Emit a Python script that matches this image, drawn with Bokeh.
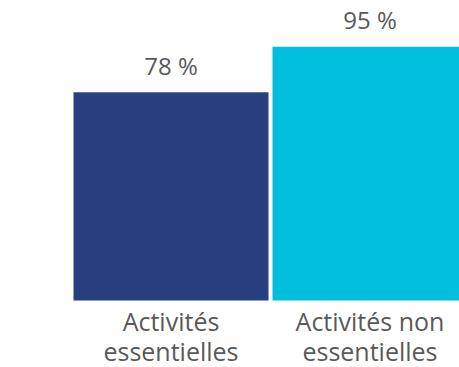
from bokeh.plotting import figure
from bokeh.models import Range1d, ColumnDataSource
from bokeh.core.properties import value
from bokeh.embed import file_html
from bokeh.resources import INLINE

categories = ["Activités\nessentielles", "Activités non\nessentielles"]
values = [78, 95]
value_labels = ["78 %", "95 %"]
colors = ["#283f80", "#00bfde"]

xs = list(range(len(categories)))
src = ColumnDataSource(dict(x=xs, top=values, lab=value_labels,
                            line1=[c.split("\n")[0] for c in categories],
                            line2=[c.split("\n")[1] for c in categories],
                            color=colors, zero=[0] * len(xs)))

p = figure(width=459, height=367, output_backend="svg", toolbar_location=None,
           x_range=Range1d(-170.5 / 199, (459 - 170.5) / 199),
           y_range=Range1d((300 - 367) / 2.67, 300 / 2.67),
           min_border=0, outline_line_color=None)
p.axis.visible = False
p.grid.visible = False
p.background_fill_color = "white"
p.border_fill_color = "white"

p.vbar(x="x", top="top", bottom=0, width=195 / 199, color="color", source=src, line_color=None)

p.text(x="x", y="top", text="lab", source=src, text_align="center", text_baseline="middle",
       y_offset=-27, text_font=value("Open Sans"), text_font_size="24px", text_color="#595959")

for col, off in (("line1", 20), ("line2", 50)):
    p.text(x="x", y="zero", text=col, source=src, text_align="center", text_baseline="middle",
           y_offset=off, text_font=value("Open Sans"), text_font_size="25px",
           text_color="#595959")

open("out.html", "w").write(file_html(p, INLINE))
